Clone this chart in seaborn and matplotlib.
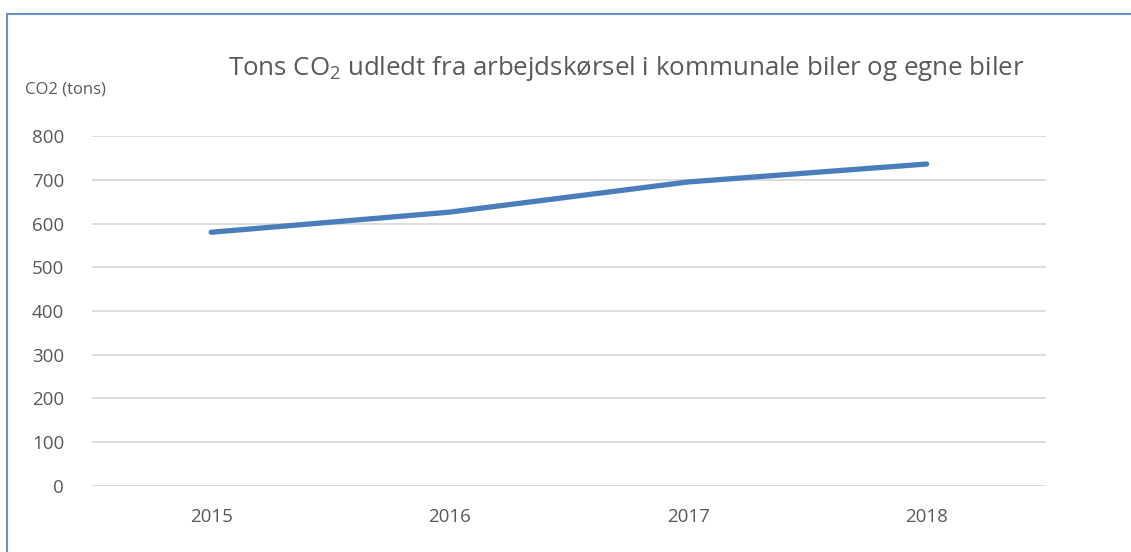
import numpy as np
import pandas as pd
import matplotlib
matplotlib.use("Agg")
import matplotlib.pyplot as plt
import seaborn as sns
from matplotlib.lines import Line2D

years = ["2015", "2016", "2017", "2018"]
co2_tons = [580, 626, 695, 736]
y_ticks = [0, 100, 200, 300, 400, 500, 600, 700, 800]

df = pd.DataFrame({"year": years, "co2": co2_tons})

sns.set_style("white")
plt.rcParams["font.family"] = ["Open Sans", "DejaVu Sans"]
plt.rcParams["mathtext.fontset"] = "custom"
plt.rcParams["mathtext.rm"] = "Open Sans"
plt.rcParams["mathtext.it"] = "Open Sans"

text_col = "#595959"
grid_col = "#d9d9d9"
line_col = "#4a7ebb"

fig = plt.figure(figsize=(11.31, 5.52), dpi=100)
ax = fig.add_axes([0.0813, 0.1196, 0.9248 - 0.0813, 0.7536 - 0.1196])

sns.lineplot(data=df, x="year", y="co2", ax=ax, color=line_col, linewidth=3.8,
             solid_capstyle="round", sort=False)

ax.set_xlim(-0.5, 3.5)
ax.set_ylim(0, 800)
ax.set_yticks(y_ticks)
ax.yaxis.grid(True, color=grid_col, linewidth=1.3)
ax.set_axisbelow(True)
for s in ax.spines.values():
    s.set_visible(False)
ax.tick_params(axis="both", length=0, labelsize=13.5, labelcolor=text_col)
ax.tick_params(axis="y", pad=20)
ax.tick_params(axis="x", pad=16)
ax.set_xlabel("")
ax.set_ylabel("")

fig.text(0.022, 0.838, "CO2 (tons)", fontsize=12, color=text_col, va="center")
fig.text(0.5536, 0.876, "Tons CO$_2$ udledt fra arbejdskørsel i kommunale biler og egne biler",
         fontsize=18.6, color=text_col, ha="center", va="center")

# frame border (only top and left visible in the crop)
fig.add_artist(Line2D([0.0066, 1.0], [1 - 14 / 552, 1 - 14 / 552], transform=fig.transFigure,
                      color="#6a8fc4", linewidth=1.5))
fig.add_artist(Line2D([0.0066, 0.0066], [0, 1 - 14 / 552], transform=fig.transFigure,
                      color="#6a8fc4", linewidth=1.5))

fig.savefig("out.png", dpi=100)
